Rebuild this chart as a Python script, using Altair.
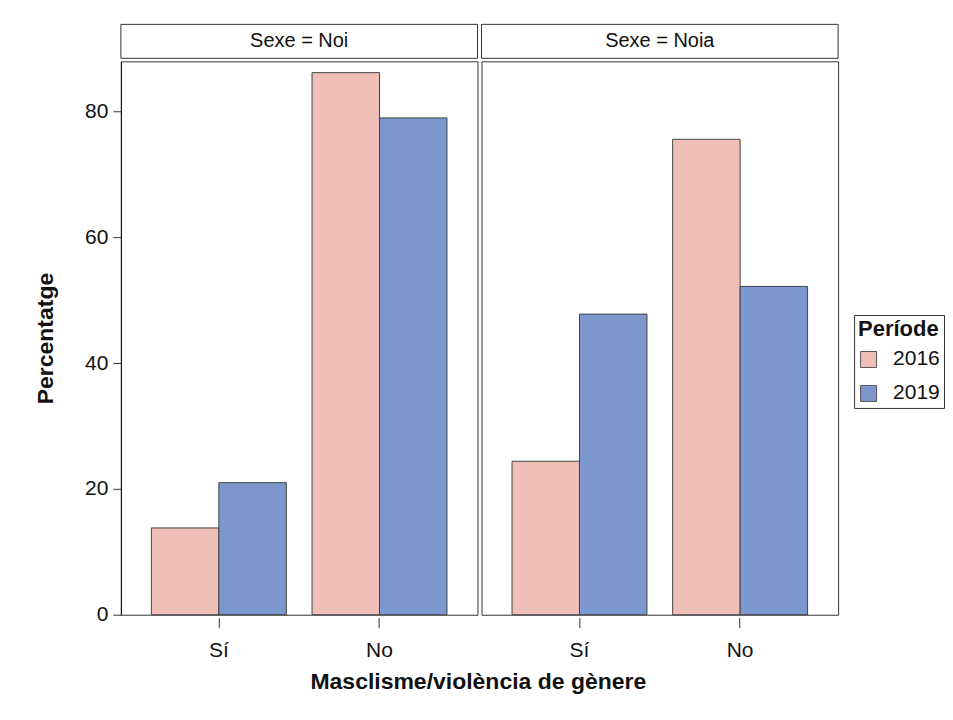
import altair as alt
import pandas as pd

sexes = ["Noi", "Noia"]
categories = ["Sí", "No"]
periods = ["2016", "2019"]
noi_2016 = [13.8, 86.2]
noi_2019 = [21.0, 79.0]
noia_2016 = [24.4, 75.6]
noia_2019 = [47.8, 52.2]

values = {
    ("Noi", "2016"): noi_2016,
    ("Noi", "2019"): noi_2019,
    ("Noia", "2016"): noia_2016,
    ("Noia", "2019"): noia_2019,
}

rows = []
for s in sexes:
    for p in periods:
        for c, v in zip(categories, values[(s, p)]):
            rows.append({"Sexe": s, "Cat": c, "Període": p, "Percentatge": v})
df = pd.DataFrame(rows)

FONT = "Liberation Sans"
PW, PH, HH = 357, 554, 34

color = alt.Color(
    "Període:N",
    scale=alt.Scale(domain=periods, range=["#EFBEB7", "#7B97CD"]),
    legend=alt.Legend(
        title="Període", orient="none", legendX=734, legendY=291,
        titleFontSize=22, titleFontWeight="bold", labelFontSize=21,
        symbolType="square", symbolSize=256, symbolStrokeColor="#555",
        symbolStrokeWidth=1, strokeColor="#333", padding=4,
        rowPadding=12, titlePadding=8, labelOffset=14, titleFont=FONT, labelFont=FONT,
        titleColor="#111", labelColor="#111",
    ),
)


def header(s):
    base = alt.Chart(pd.DataFrame({"label": [f"Sexe = {s}"]}))
    box = base.mark_rect(fill="white", stroke="#333", strokeWidth=1).encode(
        color=alt.value("white")
    )
    txt = base.mark_text(font=FONT, fontSize=20, color="#111").encode(text="label:N")
    return alt.layer(box, txt).properties(width=PW, height=HH)


def panel(s, first):
    yaxis = alt.Axis(
        values=[0, 20, 40, 60, 80], title="Percentatge", grid=False,
        labelFontSize=21, titleFontSize=23, titleFontWeight="bold",
        tickSize=8, tickColor="#333", domainColor="#111", labelColor="#111",
        titleColor="#111", labelPadding=5, titlePadding=27, labelFont=FONT, titleFont=FONT,
    ) if first else None
    return (
        alt.Chart(df[df["Sexe"] == s])
        .mark_bar(stroke="#444", strokeWidth=1)
        .encode(
            x=alt.X(
                "Cat:N", sort=categories, title=None,
                scale=alt.Scale(paddingInner=0.16, paddingOuter=0.19),
                axis=alt.Axis(labelAngle=0, labelFontSize=21, tickSize=10, offset=3,
                              domain=False, tickColor="#333", labelColor="#111",
                              labelPadding=12, labelFont=FONT),
            ),
            xOffset=alt.XOffset("Període:N", sort=periods),
            y=alt.Y("Percentatge:Q", scale=alt.Scale(domain=[0, 88], nice=False), axis=yaxis),
            color=color,
        )
        .properties(width=PW, height=PH)
    )


chart = (
    alt.hconcat(
        alt.vconcat(header("Noi"), panel("Noi", True), spacing=1),
        alt.vconcat(header("Noia"), panel("Noia", False), spacing=1),
        spacing=2,
    )
    .properties(
        title=alt.TitleParams(
            "Masclisme/violència de gènere", orient="bottom", anchor="middle",
            fontSize=23, fontWeight="bold", font=FONT, color="#111", offset=10, dx=-11,
        ),
        padding={"left": 26, "top": 15, "right": 0, "bottom": 5},
    )
    .configure_view(stroke="#333", strokeWidth=1)
    .configure_concat(spacing=0)
)

chart.save("out.html", embed_options={"renderer": "svg", "actions": False})
